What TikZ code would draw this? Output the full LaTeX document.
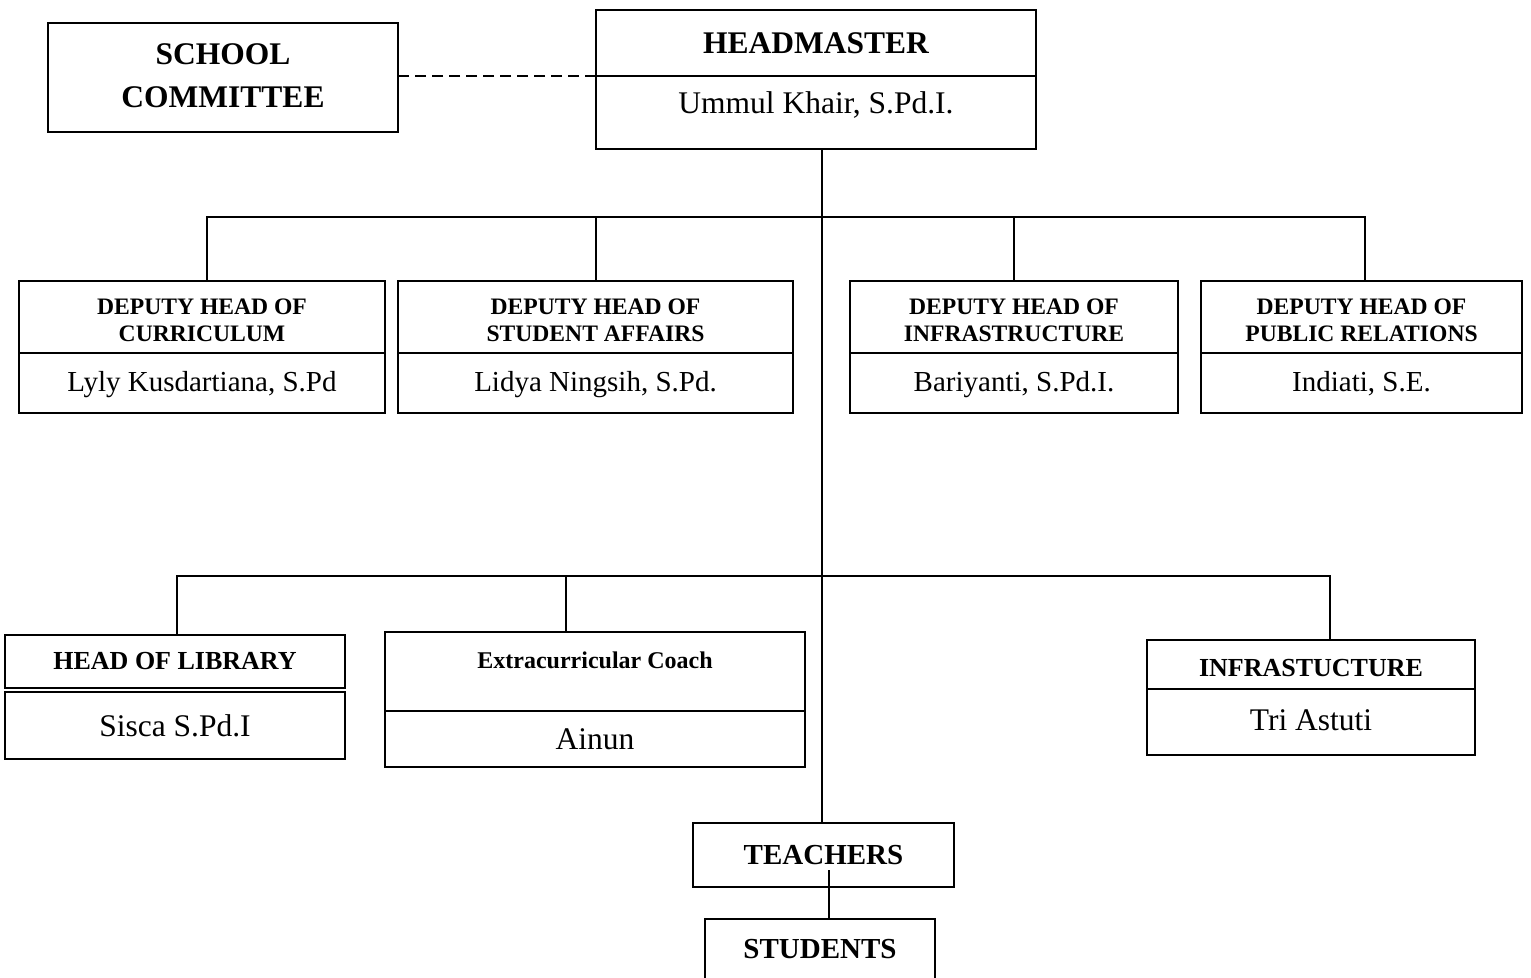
\documentclass[tikz,border=0pt]{standalone}
\usepackage{fontspec}
\setmainfont{Liberation Serif}
\usetikzlibrary{positioning}
\tikzset{
  orgbox/.style={draw, line width=2pt, inner sep=0pt, outer sep=0pt, align=center},
  link/.style={line width=1.5pt},
  bigtitle/.style={font=\fontsize{31.5}{43}\selectfont\bfseries},
  deptitle/.style={font=\fontsize{23.6}{27}\selectfont\bfseries, text height=48pt, text depth=0pt},
  depname/.style={font=\fontsize{29}{34}\selectfont, text height=22pt, text depth=5.6pt},
  unittitle/.style={font=\fontsize{26}{30}\selectfont\bfseries},
  unitname/.style={font=\fontsize{31.5}{36}\selectfont},
}
\begin{document}
\begin{tikzpicture}[x=1pt,y=-1pt]
    \useasboundingbox (0,0) rectangle (1531,977);
    \clip (0,0) rectangle (1531,977);
    % headmaster and committee
    \node[orgbox, bigtitle, minimum width=440pt, minimum height=66pt] (hm) at (816,43) {HEADMASTER};
    \node[orgbox, unitname, text height=24pt, text depth=22pt, minimum width=440pt, minimum height=73pt, below=0pt of hm] (hmname) {Ummul Khair, S.Pd.I.};
    \node[orgbox, bigtitle, text depth=4pt, minimum width=350pt, minimum height=109pt] (committee) at (223,77.5) {SCHOOL\\COMMITTEE};
    \draw[line width=2.5pt, dash pattern=on 11pt off 6pt] (hm.south west) -- (hm.south west -| committee.east);
    % deputies
    \node[orgbox, deptitle, minimum width=366pt, minimum height=72pt] (curr) at (202,317) {DEPUTY HEAD OF\\CURRICULUM};
    \node[orgbox, depname, minimum width=366pt, minimum height=60pt, below=0pt of curr] (currname) {Lyly Kusdartiana, S.Pd};
    \node[orgbox, deptitle, minimum width=395pt, minimum height=72pt] (stud) at (595.5,317) {DEPUTY HEAD OF\\STUDENT AFFAIRS};
    \node[orgbox, depname, minimum width=395pt, minimum height=60pt, below=0pt of stud] (studname) {Lidya Ningsih, S.Pd.};
    \node[orgbox, deptitle, minimum width=328pt, minimum height=72pt] (infra) at (1014,317) {DEPUTY HEAD OF\\INFRASTRUCTURE};
    \node[orgbox, depname, minimum width=328pt, minimum height=60pt, below=0pt of infra] (infraname) {Bariyanti, S.Pd.I.};
    \node[orgbox, deptitle, minimum width=321pt, minimum height=72pt] (pr) at (1361.5,317) {DEPUTY HEAD OF\\PUBLIC RELATIONS};
    \node[orgbox, depname, minimum width=321pt, minimum height=60pt, below=0pt of pr] (prname) {Indiati, S.E.};
    % units
    \node[orgbox, unittitle, minimum width=340pt, minimum height=53pt] (lib) at (175,661.5) {HEAD OF LIBRARY};
    \node[orgbox, unitname, minimum width=340pt, minimum height=67pt, below=4pt of lib] (libname) {Sisca S.Pd.I};
    \node[orgbox, font=\fontsize{24}{28}\selectfont\bfseries, text height=17pt, text depth=24pt, minimum width=420pt, minimum height=79pt] (coach) at (595,671.5) {Extracurricular Coach};
    \node[orgbox, unitname, minimum width=420pt, minimum height=56pt, below=0pt of coach] (coachname) {Ainun};
    \node[orgbox, unittitle, text height=23pt, text depth=0pt, minimum width=328pt, minimum height=49pt] (infst) at (1311,664.5) {INFRASTUCTURE};
    \node[orgbox, unitname, text height=22pt, text depth=6pt, minimum width=328pt, minimum height=66pt, below=0pt of infst] (infstname) {Tri Astuti};
    % teachers and students
    \node[orgbox, font=\fontsize{29}{34}\selectfont\bfseries, minimum width=261pt, minimum height=64pt] (teachers) at (823.5,855) {TEACHERS};
    \node[orgbox, font=\fontsize{29}{34}\selectfont\bfseries, text height=22pt, text depth=20pt, minimum width=230pt, minimum height=76pt] (students) at (820,957) {STUDENTS};
    % connectors
    \coordinate (bustop) at (822,217);
    \coordinate (buslow) at (822,576);
    \coordinate (tchdrop) at (829,870);
    \draw[link] (hmname.south -| bustop) -- (teachers.north -| bustop);
    \draw[link] ([xshift=5pt]curr.north) |- (bustop) -| ([xshift=3.5pt]pr.north);
    \draw[link] ([xshift=0.5pt]stud.north) -- ([xshift=0.5pt]stud.north |- bustop);
    \draw[link] (infra.north) -- (infra.north |- bustop);
    \draw[link] ([xshift=2pt]lib.north) |- (buslow) -| ([xshift=19pt]infst.north);
    \draw[link] ([xshift=-29pt]coach.north) -- ([xshift=-29pt]coach.north |- buslow);
    \draw[link] (tchdrop) -- (tchdrop |- students.north);
\end{tikzpicture}
\end{document}
